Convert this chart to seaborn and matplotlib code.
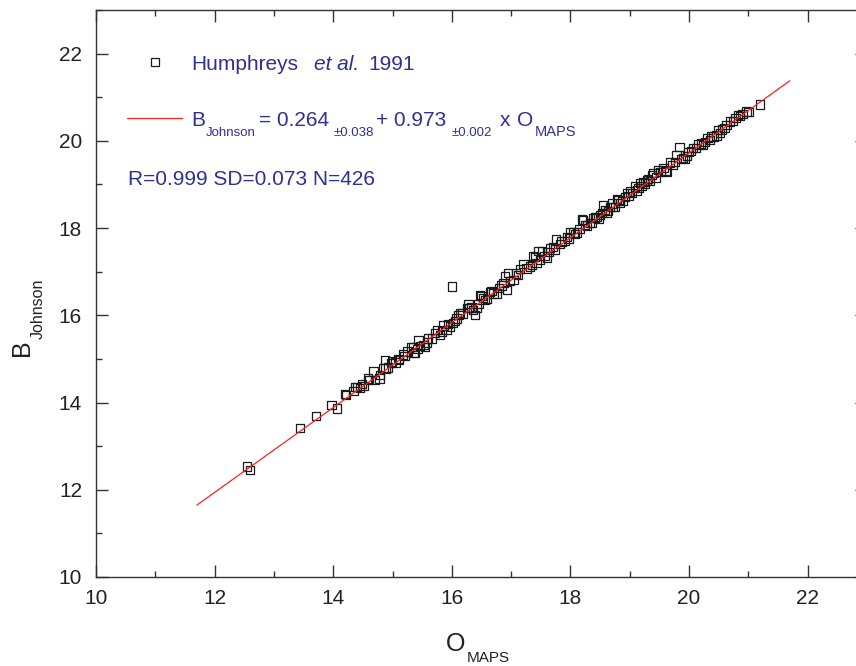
import matplotlib
matplotlib.use("Agg")
import matplotlib.pyplot as plt
from matplotlib.ticker import MultipleLocator
from matplotlib.font_manager import FontProperties
from matplotlib.transforms import IdentityTransform
import seaborn as sns
import pandas as pd
import numpy as np

# O_MAPS magnitudes and Johnson B magnitudes (Humphreys et al. 1991 stars)
o_maps = [
    12.55, 12.60, 13.44, 13.71, 13.97, 14.06, 14.20, 14.22, 14.34, 14.37,
    14.40, 14.45, 14.48, 14.51, 14.59, 14.60, 14.68, 14.70, 14.78, 14.79,
    14.85, 14.87, 14.88, 14.92, 14.97, 14.99, 15.05, 15.10, 15.11, 15.18,
    15.20, 15.25, 15.32, 15.35, 15.36, 15.38, 15.42, 15.44, 15.46, 15.52,
    15.55, 15.58, 15.60, 15.66, 15.72, 15.75, 15.80, 15.83, 15.86, 15.91,
    15.94, 15.97, 16.00, 16.02, 16.05, 16.08, 16.11, 16.14, 16.18, 16.25,
    16.28, 16.30, 16.33, 16.36, 16.39, 16.42, 16.45, 16.48, 16.50, 16.53,
    16.56, 16.59, 16.64, 16.67, 16.70, 16.76, 16.80, 16.84, 16.87, 16.90,
    16.93, 16.95, 16.98, 17.04, 17.08, 17.12, 17.15, 17.21, 17.26, 17.32,
    17.35, 17.37, 17.40, 17.43, 17.46, 17.49, 17.52, 17.56, 17.60, 17.63,
    17.66, 17.71, 17.74, 17.76, 17.82, 17.85, 17.90, 17.94, 17.97, 17.99,
    18.05, 18.08, 18.11, 18.15, 18.19, 18.21, 18.25, 18.28, 18.33, 18.36,
    18.38, 18.41, 18.44, 18.47, 18.50, 18.53, 18.55, 18.58, 18.61, 18.63,
    18.67, 18.70, 18.72, 18.75, 18.78, 18.81, 18.84, 18.88, 18.92, 18.95,
    18.98, 19.00, 19.04, 19.09, 19.12, 19.15, 19.17, 19.20, 19.23, 19.26,
    19.29, 19.31, 19.34, 19.37, 19.40, 19.44, 19.48, 19.52, 19.57, 19.60,
    19.62, 19.68, 19.72, 19.76, 19.79, 19.84, 19.86, 19.90, 19.93, 19.96,
    19.99, 20.03, 20.07, 20.12, 20.16, 20.20, 20.24, 20.27, 20.31, 20.35,
    20.38, 20.41, 20.46, 20.49, 20.52, 20.56, 20.60, 20.63, 20.69, 20.74,
    20.78, 20.83, 20.86, 20.90, 20.97, 21.00, 21.20,
]
b_johnson = [
    12.53, 12.46, 13.42, 13.69, 13.94, 13.86, 14.20, 14.18, 14.27, 14.36,
    14.35, 14.33, 14.43, 14.38, 14.55, 14.52, 14.71, 14.52, 14.55, 14.63,
    14.79, 14.98, 14.78, 14.80, 14.90, 14.94, 14.92, 15.00, 14.97, 15.10,
    15.07, 15.17, 15.28, 15.28, 15.13, 15.15, 15.23, 15.44, 15.30, 15.32,
    15.28, 15.38, 15.47, 15.47, 15.59, 15.66, 15.55, 15.63, 15.77, 15.67,
    15.80, 15.74, 16.66, 15.82, 15.87, 15.93, 16.01, 16.05, 16.04, 16.16,
    16.26, 16.16, 16.18, 16.12, 16.01, 16.16, 16.26, 16.47, 16.45, 16.40,
    16.35, 16.38, 16.54, 16.56, 16.50, 16.50, 16.62, 16.68, 16.74, 16.89,
    16.58, 16.97, 16.78, 16.81, 16.96, 16.92, 17.06, 17.18, 17.07, 17.12,
    17.16, 17.36, 17.33, 17.20, 17.48, 17.27, 17.48, 17.36, 17.31, 17.45,
    17.54, 17.56, 17.51, 17.74, 17.63, 17.69, 17.70, 17.80, 17.76, 17.90,
    17.90, 17.87, 17.90, 17.98, 18.20, 18.18, 18.07, 18.06, 18.11, 18.12,
    18.23, 18.24, 18.26, 18.22, 18.30, 18.34, 18.52, 18.42, 18.34, 18.39,
    18.48, 18.56, 18.49, 18.48, 18.66, 18.65, 18.57, 18.62, 18.72, 18.80,
    18.73, 18.84, 18.80, 18.95, 18.86, 18.92, 19.03, 18.96, 19.05, 19.02,
    19.09, 19.12, 19.08, 19.22, 19.26, 19.16, 19.33, 19.28, 19.38, 19.32,
    19.30, 19.50, 19.45, 19.52, 19.68, 19.86, 19.58, 19.60, 19.58, 19.66,
    19.75, 19.76, 19.83, 19.84, 19.92, 19.94, 19.90, 19.98, 20.06, 20.02,
    20.10, 20.10, 20.12, 20.25, 20.18, 20.26, 20.30, 20.37, 20.44, 20.46,
    20.52, 20.60, 20.57, 20.62, 20.67, 20.66, 20.83,
]

# Linear fit B = a + b * O over the fitted range
fit_intercept = 0.264
fit_slope = 0.973
fit_range = [11.7, 21.7]

x_ticks = [10, 12, 14, 16, 18, 20, 22]
y_ticks = [10, 12, 14, 16, 18, 20, 22]

sns.set_style("ticks")
plt.rcParams["font.family"] = ["Liberation Sans", "DejaVu Sans"]

axis_color = "#333333"
text_blue = "#2E3192"
dark = "#222222"

W, H = 856, 666
fig = plt.figure(figsize=(W / 100, H / 100), dpi=100)
ax = fig.add_axes([96 / W, 89 / H, 771 / W, 567 / H])
renderer = fig.canvas.get_renderer()


def advance(s, size, style="normal"):
    prop = FontProperties(family=["Liberation Sans", "DejaVu Sans"],
                          size=size, style=style)
    w, _, _ = renderer.get_text_width_height_descent(s, prop, ismath=False)
    return w


def text_run(x, y, pieces, color, rotation=0):
    """Draw consecutive text pieces along a baseline (pixel coordinates,
    origin top-left). Each piece: (text, size, gap_before, drop, style)."""
    pos = 0.0
    for s, size, gap, drop, style in pieces:
        pos += gap
        if rotation == 0:
            px, py = x + pos, H - (y + drop)
        else:
            px, py = x + drop, H - (y - pos)
        fig.text(px, py, s, transform=IdentityTransform(), fontsize=size,
                 fontstyle=style, color=color, ha="left", va="baseline",
                 rotation=rotation, rotation_mode="anchor")
        pos += advance(s, size, style)


df = pd.DataFrame({"O": o_maps, "B": b_johnson})
sns.scatterplot(data=df, x="O", y="B", ax=ax, marker="s", s=36,
                facecolor="none", edgecolor="#1a1a1a", linewidth=0.9,
                legend=False, zorder=3)

fit_x = np.array(fit_range)
fit_df = pd.DataFrame({"O": fit_x, "B": fit_intercept + fit_slope * fit_x})
sns.lineplot(data=fit_df, x="O", y="B", ax=ax, color="#ff2020",
             linewidth=0.9, zorder=4)

ax.set_xlim(10, 23)
ax.set_ylim(10, 23)
ax.set_xticks(x_ticks)
ax.set_yticks(y_ticks)
ax.xaxis.set_minor_locator(MultipleLocator(1))
ax.yaxis.set_minor_locator(MultipleLocator(1))
ax.tick_params(which="both", direction="in", top=True, right=True,
               color=axis_color, width=1.0)
ax.tick_params(which="major", length=8.5, labelsize=15, labelcolor=dark)
ax.tick_params(axis="x", which="major", pad=9)
ax.tick_params(axis="y", which="major", pad=10)
ax.tick_params(which="minor", length=4.3)
for sp in ax.spines.values():
    sp.set_color(axis_color)
    sp.set_linewidth(1.0)
ax.set_xlabel("")
ax.set_ylabel("")

# Axis titles with dropped subscripts
text_run(446, 651, [("O", 18, 0, 0, "normal"),
                    ("MAPS", 11, 1, 11, "normal")], dark)
text_run(29, 356, [("B", 18, 0, 0, "normal"),
                   ("Johnson", 11.5, 0, 14, "normal")], dark, rotation=90)

# Key: data symbol, fit line and statistics
ax.plot([0.0765], [0.908], transform=ax.transAxes, marker="s", ms=6,
        mfc="none", mec="#1a1a1a", mew=0.9, ls="none", clip_on=False)
text_run(191, 70, [("Humphreys", 15, 0, 0, "normal"),
                   ("et al.", 15, 16, 0, "italic"),
                   ("1991", 15, 9, 0, "normal")], text_blue)
ax.plot([0.0402, 0.1115], [0.8095, 0.8095], transform=ax.transAxes,
        color="#ff2020", lw=0.9)
text_run(191, 126, [("B", 15, 0, 0, "normal"),
                    ("Johnson", 9.5, 1, 9.5, "normal"),
                    ("= 0.264", 15, 3, 0, "normal"),
                    ("\u00b10.038", 9.5, 5, 9.5, "normal"),
                    ("+ 0.973", 15, 2, 0, "normal"),
                    ("\u00b10.002", 9.5, 5, 9.5, "normal"),
                    ("x", 15, 8, 0, "normal"),
                    ("O", 15, 6, 0, "normal"),
                    ("MAPS", 10.5, 2, 9.5, "normal")], text_blue)
text_run(128, 185, [("R=0.999 SD=0.073 N=426", 15, 0, 0, "normal")],
         text_blue)

fig.savefig("out.png", dpi=100)
